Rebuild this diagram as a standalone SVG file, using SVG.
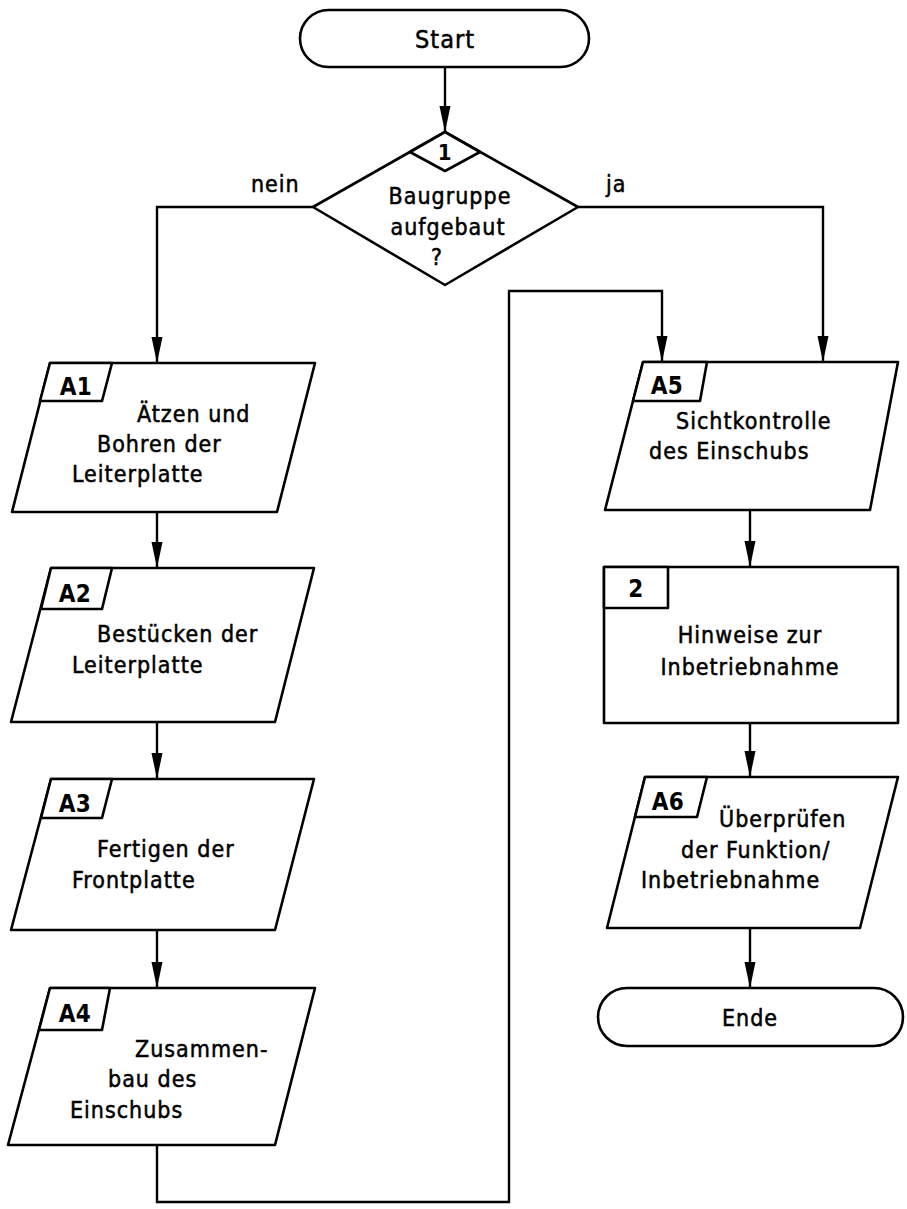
<svg xmlns="http://www.w3.org/2000/svg" width="907" height="1209" viewBox="0 0 907 1209">
<defs>
<marker id="arr" markerUnits="userSpaceOnUse" markerWidth="28" markerHeight="12" refX="26" refY="5.5" orient="auto">
<path d="M0,0 L26,5.5 L0,11 z" fill="#000"/>
</marker>
<style>
.s{fill:#fff;stroke:#000;stroke-width:2.6;stroke-linejoin:round}
.c{fill:none;stroke:#000;stroke-width:2.4}
.t{font-family:"DejaVu Sans Condensed","DejaVu Sans","Liberation Sans",sans-serif;font-size:23px;letter-spacing:1px;fill:#000;stroke:#000;stroke-width:0.5}
.m{text-anchor:middle}
.b{font-family:"DejaVu Sans Condensed","DejaVu Sans","Liberation Sans",sans-serif;font-size:24px;font-weight:bold;letter-spacing:0.5px;fill:#000;text-anchor:middle}
</style>
</defs>
<rect width="907" height="1209" fill="#fff"/>
<g id="connectors">
<path class="c" d="M445,67 V132" marker-end="url(#arr)"/>
<path class="c" d="M313,207 H157 V363" marker-end="url(#arr)"/>
<path class="c" d="M578,207 H823 V362" marker-end="url(#arr)"/>
<path class="c" d="M157,512 V568" marker-end="url(#arr)"/>
<path class="c" d="M157,722 V779" marker-end="url(#arr)"/>
<path class="c" d="M157,930 V988" marker-end="url(#arr)"/>
<path class="c" d="M157,1145 V1202 H509 V291 H662 V362" marker-end="url(#arr)"/>
<path class="c" d="M750,510 V567" marker-end="url(#arr)"/>
<path class="c" d="M750,723 V777" marker-end="url(#arr)"/>
<path class="c" d="M750,928 V988" marker-end="url(#arr)"/>
<text class="t" x="251" y="192">nein</text>
<text class="t" x="606" y="192">ja</text>
</g>
<g id="start">
<rect class="s" x="300" y="10" width="289" height="57" rx="28.5"/>
<text class="t m" x="445" y="48" style="font-size:25px">Start</text>
</g>
<g id="decision1">
<polygon class="s" points="445,132 578,207 445,285 313,207"/>
<polygon class="s" points="445,132 480,152 445,171 410,152"/>
<text class="b" x="445" y="160" style="font-size:22px">1</text>
<text class="t m" x="450" y="204">Baugruppe</text>
<text class="t m" x="448" y="235">aufgebaut</text>
<text class="t m" x="437" y="265">?</text>
</g>
<g id="A1">
<polygon class="s" points="50,363 315,363 277,512 12,512"/>
<polygon class="s" points="50,363 112,363 102,401 40,401"/>
<text class="b" x="76" y="395">A1</text>
<text class="t" x="137" y="422">Ätzen und</text>
<text class="t" x="97" y="452">Bohren der</text>
<text class="t" x="72" y="482">Leiterplatte</text>
</g>
<g id="A2">
<polygon class="s" points="51,568 314,568 275,722 11,722"/>
<polygon class="s" points="51,568 112,568 102,609 41,609"/>
<text class="b" x="75" y="602">A2</text>
<text class="t" x="97" y="642">Bestücken der</text>
<text class="t" x="72" y="673">Leiterplatte</text>
</g>
<g id="A3">
<polygon class="s" points="51,779 314,779 275,930 11,930"/>
<polygon class="s" points="51,779 112,779 102,818 41,818"/>
<text class="b" x="75" y="812">A3</text>
<text class="t" x="97" y="857">Fertigen der</text>
<text class="t" x="72" y="888">Frontplatte</text>
</g>
<g id="A4">
<polygon class="s" points="50,988 315,988 275,1145 8,1145"/>
<polygon class="s" points="50,988 110,988 102,1030 39,1030"/>
<text class="b" x="75" y="1022">A4</text>
<text class="t" x="135" y="1057">Zusammen-</text>
<text class="t" x="108" y="1087">bau des</text>
<text class="t" x="70" y="1118">Einschubs</text>
</g>
<g id="A5">
<polygon class="s" points="643,362 898,362 870,510 605,510"/>
<polygon class="s" points="643,362 707,362 700,401 633,401"/>
<text class="b" x="667" y="394">A5</text>
<text class="t" x="676" y="429">Sichtkontrolle</text>
<text class="t" x="649" y="459">des Einschubs</text>
</g>
<g id="step2">
<rect class="s" x="604" y="567" width="294" height="156"/>
<rect class="s" x="604" y="567" width="64" height="41"/>
<text class="b" x="636" y="597">2</text>
<text class="t m" x="750" y="643">Hinweise zur</text>
<text class="t m" x="750" y="675">Inbetriebnahme</text>
</g>
<g id="A6">
<polygon class="s" points="645,777 898,777 860,928 607,928"/>
<polygon class="s" points="645,777 707,777 697,817 635,817"/>
<text class="b" x="668" y="810">A6</text>
<text class="t" x="719" y="827">Überprüfen</text>
<text class="t" x="681" y="858">der Funktion/</text>
<text class="t" x="641" y="888">Inbetriebnahme</text>
</g>
<g id="ende">
<rect class="s" x="598" y="988" width="305" height="58" rx="29"/>
<text class="t m" x="750" y="1026">Ende</text>
</g>
</svg>
